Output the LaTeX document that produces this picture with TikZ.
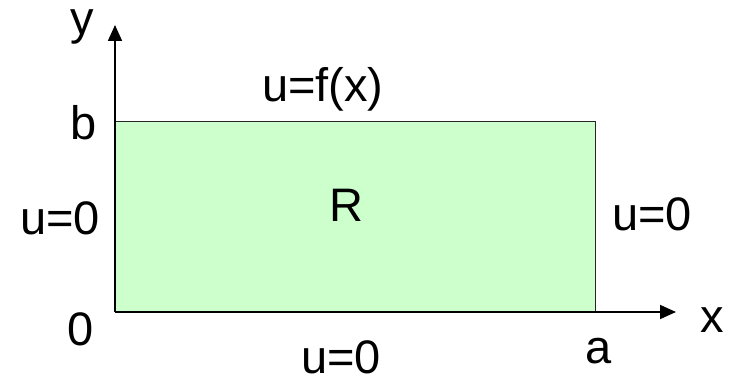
\documentclass[tikz,border=0pt]{standalone}
\usepackage{fontspec}
\setmainfont{Liberation Sans}
\usetikzlibrary{arrows.meta}
\definecolor{regiongreen}{HTML}{CCFFCC}
\begin{document}
\begin{tikzpicture}[x=1pt,y=-1pt,
  lbl/.style={inner sep=0pt,anchor=base west,font=\fontsize{47}{50}\selectfont},
  axis/.style={line width=1.8pt,-{Triangle[length=16pt,width=14pt]}}]
\useasboundingbox (0,0) rectangle (737,377);
\coordinate (O) at (115,312);
\coordinate (A) at (595,312);
\coordinate (B) at (115,122);
\coordinate (C) at (595,122);
\coordinate (yend) at (115,25);
\coordinate (xend) at (676,312);
\filldraw[fill=regiongreen,draw=black!85,line width=1pt] (O) rectangle (C);
\draw[axis] (O) -- (yend);
\draw[axis] (O) -- (xend);
\node[lbl] (ylab) at (70,35) {y};
\node[lbl] (blab) at (70,140) {b};
\node[lbl] (top) at (262,102) {u=f(x)};
\node[lbl] (R) at (329,222) {R};
\node[lbl] (left) at (20,234) {u=0};
\node[lbl] (right) at (612,231) {u=0};
\node[lbl] (zero) at (67,345) {0};
\node[lbl] (bottom) at (301,373) {u=0};
\node[lbl] (alab) at (585,363) {a};
\node[lbl] (xlab) at (700,332) {x};
\end{tikzpicture}
\end{document}
